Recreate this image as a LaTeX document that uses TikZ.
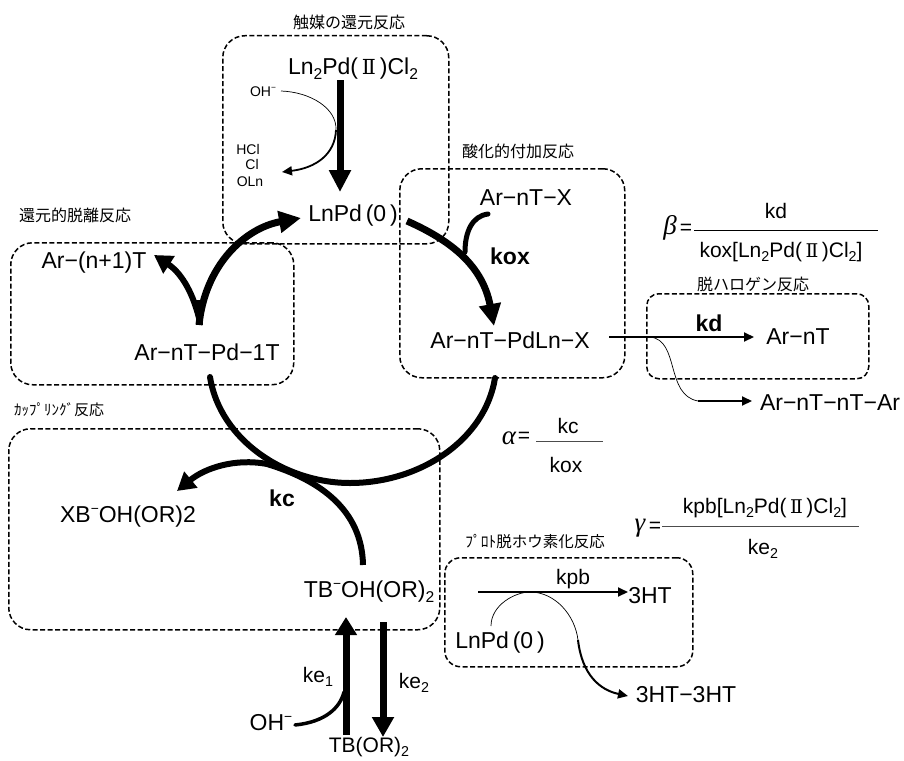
\documentclass[tikz,border=0pt]{standalone}
\usepackage{fontspec}
\setmainfont{Liberation Sans}
\newfontfamily\jpf{Noto Sans CJK JP}
\newfontfamily\dserif{DejaVu Serif}
\newfontfamily\tserif{Liberation Serif}
\usetikzlibrary{arrows.meta}
\newcommand{\fsz}[1]{\fontsize{#1}{#1}\selectfont}
\newcommand{\lowidx}[1]{\raisebox{-0.2em}{\fontsize{0.68em}{0.68em}\selectfont #1}}
\newcommand{\supmin}{\raisebox{0.42em}{\fontsize{0.6em}{0.6em}\selectfont −}}
\newcommand{\romtwo}{\,{\dserif\fontsize{0.9em}{0.9em}\selectfont Ⅱ}\,}
\tikzset{
  box/.style={draw=black,line width=1.5pt,dash pattern=on 5pt off 2.5pt,rounded corners=22pt,anchor=north west,inner sep=0pt,fill=none},
  lab/.style={inner sep=0pt,font=\jpf\fsz{16}},
  chem/.style={inner sep=0pt,font=\fsz{23}},
  frac/.style={inner sep=0pt,font=\fsz{21}},
  small/.style={inner sep=0pt,font=\fsz{14}},
  rate/.style={inner sep=0pt,font=\bfseries\fsz{23}},
  greek/.style={inner sep=0pt,font=\tserif\itshape\fsz{27}},
  heavy/.style={line width=7pt,line cap=round},
  heavyb/.style={line width=7pt,-{Triangle[width=21pt,length=22pt]}},
  medium/.style={line width=6pt,line cap=round},
  mediumh/.style={line width=6pt,-{Triangle[width=20pt,length=18pt]}},
  thinp/.style={line width=0.7pt},
  lineh/.style={line width=2pt,-{Triangle[width=9pt,length=10pt]}},
  ratio/.style={line width=1pt}
}
\begin{document}
\begin{tikzpicture}[x=1pt,y=-1pt]
\useasboundingbox (0,0) rectangle (904,760);
% boxes
\node[box,minimum width=226pt,minimum height=208pt] (b1) at (222,35) {};
\node[box,minimum width=225pt,minimum height=209pt] (b2) at (399,168) {};
\node[box,minimum width=283pt,minimum height=142pt] (b3) at (10,242) {};
\node[box,minimum width=431pt,minimum height=201pt] (b4) at (8,428) {};
\node[box,minimum width=222pt,minimum height=85pt,rounded corners=12pt] (b5) at (646,293) {};
\node[box,minimum width=248pt,minimum height=109pt,rounded corners=16pt] (b6) at (444,557) {};
% group labels
\node[lab] (l1) at (349,22) {触媒の還元反応};
\node[lab] (l2) at (518,151) {酸化的付加反応};
\node[lab] (l3) at (75,215) {還元的脱離反応};
\node[lab,font=\jpf\fsz{15}] (l4) at (59,410) {ｶｯﾌﾟﾘﾝｸﾞ反応};
\node[lab] (l5) at (753,284) {脱ハロゲン反応};
\node[lab,font=\jpf\fsz{15.5}] (l6) at (535,542) {ﾌﾟﾛﾄ脱ホウ素化反応};
% species
\node[chem] (pd2) at (353,69) {Ln\lowidx{2}Pd(\romtwo)Cl\lowidx{2}};
\node[small] (oh1) at (263,92) {OH\supmin};
\node[small] (hcl) at (248,149) {HCl};
\node[small] (cl) at (252,164) {Cl};
\node[small] (oln) at (250,182) {OLn};
\node[chem] (pd0) at (353,216) {LnPd\,(0\,)};
\node[chem] (arx) at (526,198) {Ar−nT−X};
\node[rate] (kox) at (510,256) {kox};
\node[chem] (arpdx) at (510,340) {Ar−nT−PdLn−X};
\node[chem] (arn1) at (94,263) {Ar−(n+1)T};
\node[chem] (arpd) at (207,352) {Ar−nT−Pd−1T};
\node[chem] (xb) at (128,517) {XB\supmin OH(OR)2};
\node[rate] (kc) at (282,498) {kc};
\node[chem] (tbo) at (369,592) {TB\supmin OH(OR)\lowidx{2}};
\node[frac] (ke1) at (318,677) {ke\lowidx{1}};
\node[frac] (ke2) at (414,683) {ke\lowidx{2}};
\node[chem] (oh2) at (271,723) {OH\supmin};
\node[chem,font=\fsz{21}] (tb) at (369,747) {TB(OR)\lowidx{2}};
\node[rate] (kd) at (709,323) {kd};
\node[chem] (arn) at (798,337) {Ar−nT};
\node[chem] (arar) at (830,403) {Ar−nT−nT−Ar};
\node[frac] (kpb) at (573,579) {kpb};
\node[chem] (ht) at (650,596) {3HT};
\node[chem] (pd0b) at (500,643) {LnPd\,(0\,)};
\node[chem] (htht) at (686,695) {3HT−3HT};
% ratios
\node[greek] (beta) at (670,228) {β};
\node[frac] (beq) at (686,229) {=};
\node[frac] (bnum) at (776,211) {kd};
\node[frac] (bden) at (781,252) {kox[Ln\lowidx{2}Pd(\romtwo)Cl\lowidx{2}]};
\draw[ratio] (694,230) -- (878,230);
\node[greek] (alpha) at (509,438) {α};
\node[frac] (aeq) at (524,437) {=};
\node[frac] (anum) at (568,426) {kc};
\node[frac] (aden) at (566,465) {kox};
\draw[ratio,black!70] (536,441) -- (603,441);
\node[greek] (gamma) at (640,528) {γ};
\node[frac] (geq) at (655,527) {=};
\node[frac] (gnum) at (765,508) {kpb[Ln\lowidx{2}Pd(\romtwo)Cl\lowidx{2}]};
\node[frac] (gden) at (763,549) {ke\lowidx{2}};
\draw[ratio,black!70] (662,526) -- (859,526);
% connector ends
\coordinate (a1) at (340,80);  \coordinate (a2) at (340,192);
\coordinate (c1) at (281,91);  \coordinate (c2) at (336,130); \coordinate (c3) at (282,172);
\coordinate (d1) at (199,325); \coordinate (d2) at (301,218); \coordinate (d3) at (154,255);
\coordinate (e1) at (407,221); \coordinate (e2) at (494,326);
\coordinate (f1) at (488,214); \coordinate (f2) at (465,252);
\coordinate (g1) at (210,377); \coordinate (g2) at (350,483); \coordinate (g3) at (495,378);
\coordinate (h1) at (363,565); \coordinate (h2) at (177,491);
\coordinate (i1) at (346,735); \coordinate (i2) at (346,617);
\coordinate (j1) at (383,622); \coordinate (j2) at (383,737);
\coordinate (m1) at (295,725); \coordinate (m2) at (344,692);
\coordinate (n1) at (609,337); \coordinate (n2) at (754,337);
\coordinate (o1) at (650,337); \coordinate (o2) at (698,401); \coordinate (o3) at (752,401);
\coordinate (p1) at (478,592); \coordinate (p2) at (628,592);
\coordinate (q1) at (491,626); \coordinate (q2) at (530,592); \coordinate (q3) at (578,640); \coordinate (q4) at (628,696);
% connectors
\draw[heavyb] (a1) -- (a2);
\draw[thinp] (c1) .. controls (310,92) and (337,108) .. (c2);
\draw[line width=1.8pt,-{Triangle[width=9pt,length=10pt]}] (c2) .. controls (335,155) and (315,168) .. (c3);
\draw[heavyb] (d1) .. controls (205,265) and (245,228) .. (d2);
\draw[medium,-{Triangle[width=20pt,length=18pt]}] (199,318) .. controls (192,290) and (180,272) .. (d3);
\draw[heavy,line cap=butt] (199,325) -- (199,300);
\draw[heavyb] (e1) .. controls (445,238) and (482,262) .. (e2);
\draw[line width=5pt,line cap=round] (f1) .. controls (472,216) and (465,232) .. (f2);
\draw[medium] (g1) .. controls (220,440) and (285,483) .. (g2) .. controls (420,483) and (485,440) .. (g3);
\draw[mediumh] (h1) .. controls (362,510) and (320,480) .. (267,464) .. controls (235,458) and (205,468) .. (h2);
\draw[heavyb,-{Triangle[width=21pt,length=18pt]}] (i1) -- (i2);
\draw[heavyb,-{Triangle[width=21pt,length=20pt]}] (j1) -- (j2);
\draw[line width=3.5pt,line cap=round] (m1) .. controls (325,722) and (340,708) .. (m2);
\draw[lineh] (n1) -- (n2);
\draw[thinp] (o1) .. controls (680,340) and (665,395) .. (o2);
\draw[lineh] (o2) -- (o3);
\draw[lineh] (p1) -- (p2);
\draw[thinp] (q1) .. controls (491,605) and (515,592) .. (q2) .. controls (555,592) and (575,615) .. (q3);
\draw[lineh] (q3) .. controls (582,675) and (600,690) .. (q4);
\end{tikzpicture}
\end{document}
